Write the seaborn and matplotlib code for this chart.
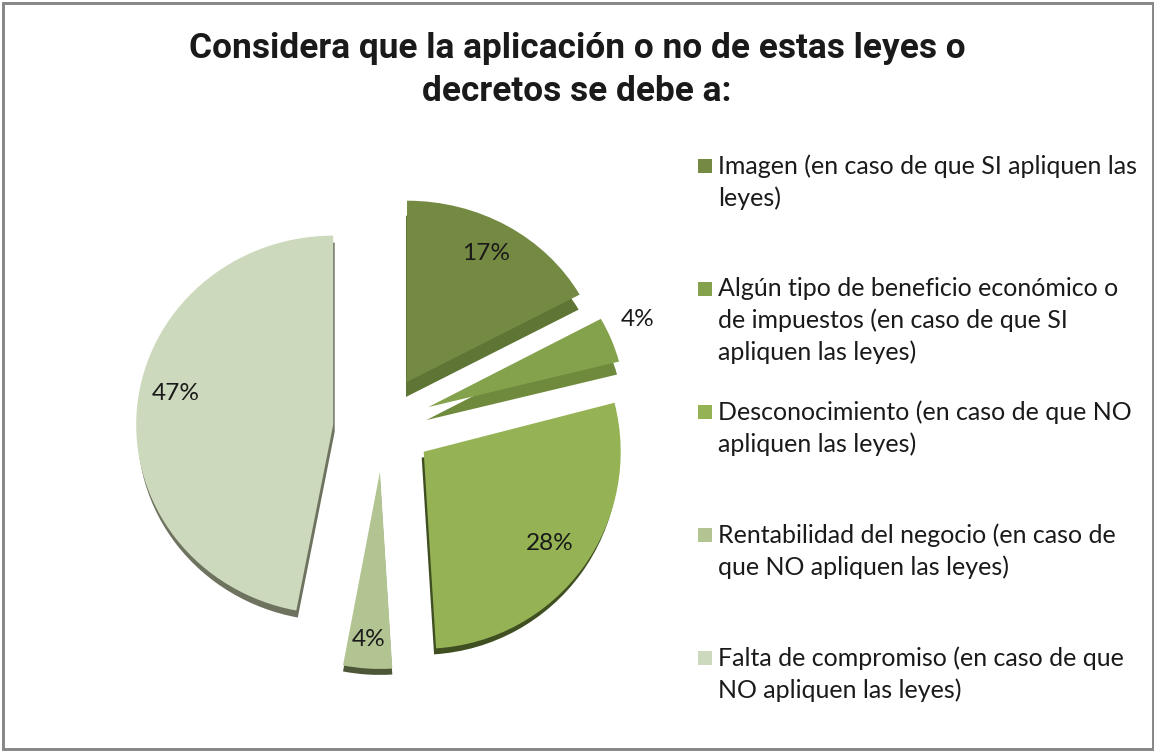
import matplotlib
matplotlib.use("Agg")
import matplotlib.pyplot as plt
import seaborn as sns
from matplotlib.patches import Rectangle
from matplotlib.transforms import Affine2D

titulo = "Considera que la aplicación o no de estas leyes o\ndecretos se debe a:"
categorias = [
    "Imagen (en caso de que SI apliquen las\nleyes)",
    "Algún tipo de beneficio económico o\nde impuestos (en caso de que SI\napliquen las leyes)",
    "Desconocimiento (en caso de que NO\napliquen las leyes)",
    "Rentabilidad del negocio (en caso de\nque NO apliquen las leyes)",
    "Falta de compromiso (en caso de que\nNO apliquen las leyes)",
]
valores = [17, 4, 28, 4, 47]
colores = ["#748A42", "#84A24B", "#95B355", "#B2C492", "#CDD9BC"]
colores_borde = ["#5F7535", "#6F8A3C", "#3F4F22", "#4E5638", "#6E7360"]

# explode en pixeles porque el eje esta en pixeles
separacion = [57, 54, 54, 41, 45]
ajuste = [(0, 0), (0, 4), (2, 11), (4.5, 0), (0, 2)]
achatado = [0.92, 0.93, 1.0, 1.0, 0.96]
grosor = [(-1, 15), (-2, 13), (-2, 6), (0, 6), (1.5, 7)]

W, H = 1154, 751
RADIO = 197
CENTRO = (378, H - 431)

sns.set_theme(style="white")
plt.rcParams["font.family"] = ["Lato", "DejaVu Sans"]

fig = plt.figure(figsize=(W / 100, H / 100), dpi=100)
ax = fig.add_axes([0, 0, 1, 1])


def colocar(wedges, extra=None):
    for i, w in enumerate(wedges):
        cx, cy = w.center
        cx += ajuste[i][0]
        cy += ajuste[i][1]
        t = Affine2D().translate(-cx, -cy).scale(1, achatado[i]).translate(cx, cy)
        if extra is not None:
            t = t.translate(extra[i][0], -extra[i][1])
        w.set_center((cx, cy))
        w.set_transform(t + ax.transData)


# pie de abajo, desplazado para hacer de canto 3D
bajo, _ = ax.pie(valores, colors=sns.color_palette(colores_borde), explode=separacion,
                 startangle=90, counterclock=False, radius=RADIO, center=CENTRO, frame=True,
                 wedgeprops={"linewidth": 0})
caras, _ = ax.pie(valores, colors=sns.color_palette(colores), explode=separacion,
                  startangle=90, counterclock=False, radius=RADIO, center=CENTRO, frame=True,
                  wedgeprops={"linewidth": 0})

ax.set_xlim(0, W)
ax.set_ylim(0, H)
ax.set_xticks([])
ax.set_yticks([])
for s in ax.spines.values():
    s.set_visible(False)

colocar(bajo, grosor)
colocar(caras)

# etiquetas de porcentaje
pos_etiquetas = [(486, 254), (638, 319), (550, 543), (369, 639), (176, 393)]
for v, (x, y) in zip(valores, pos_etiquetas):
    ax.text(x, H - y, f"{v}%", ha="center", va="center", fontsize=17.6, color="#1A1A1A")

# leyenda a mano, la primera linea alineada con el cuadro
pos_leyenda = [166, 289, 412, 535, 658]
for cat, col, y in zip(categorias, colores, pos_leyenda):
    ax.add_patch(Rectangle((698, H - y - 7), 14, 14, facecolor=col, edgecolor="none"))
    ax.text(718, H - y + 12, cat, ha="left", va="top", fontsize=18, color="#1A1A1A",
            linespacing=1.44)

ax.text(577, H - 32, titulo, ha="center", va="top", fontsize=25.4, fontweight="bold",
        family="Roboto", color="#1A1A1A", linespacing=1.38)

ax.add_patch(Rectangle((2.5, 2.5), W - 4, H - 5, fill=False, edgecolor="#868686", linewidth=2.1))

fig.savefig("out.png", dpi=100)
